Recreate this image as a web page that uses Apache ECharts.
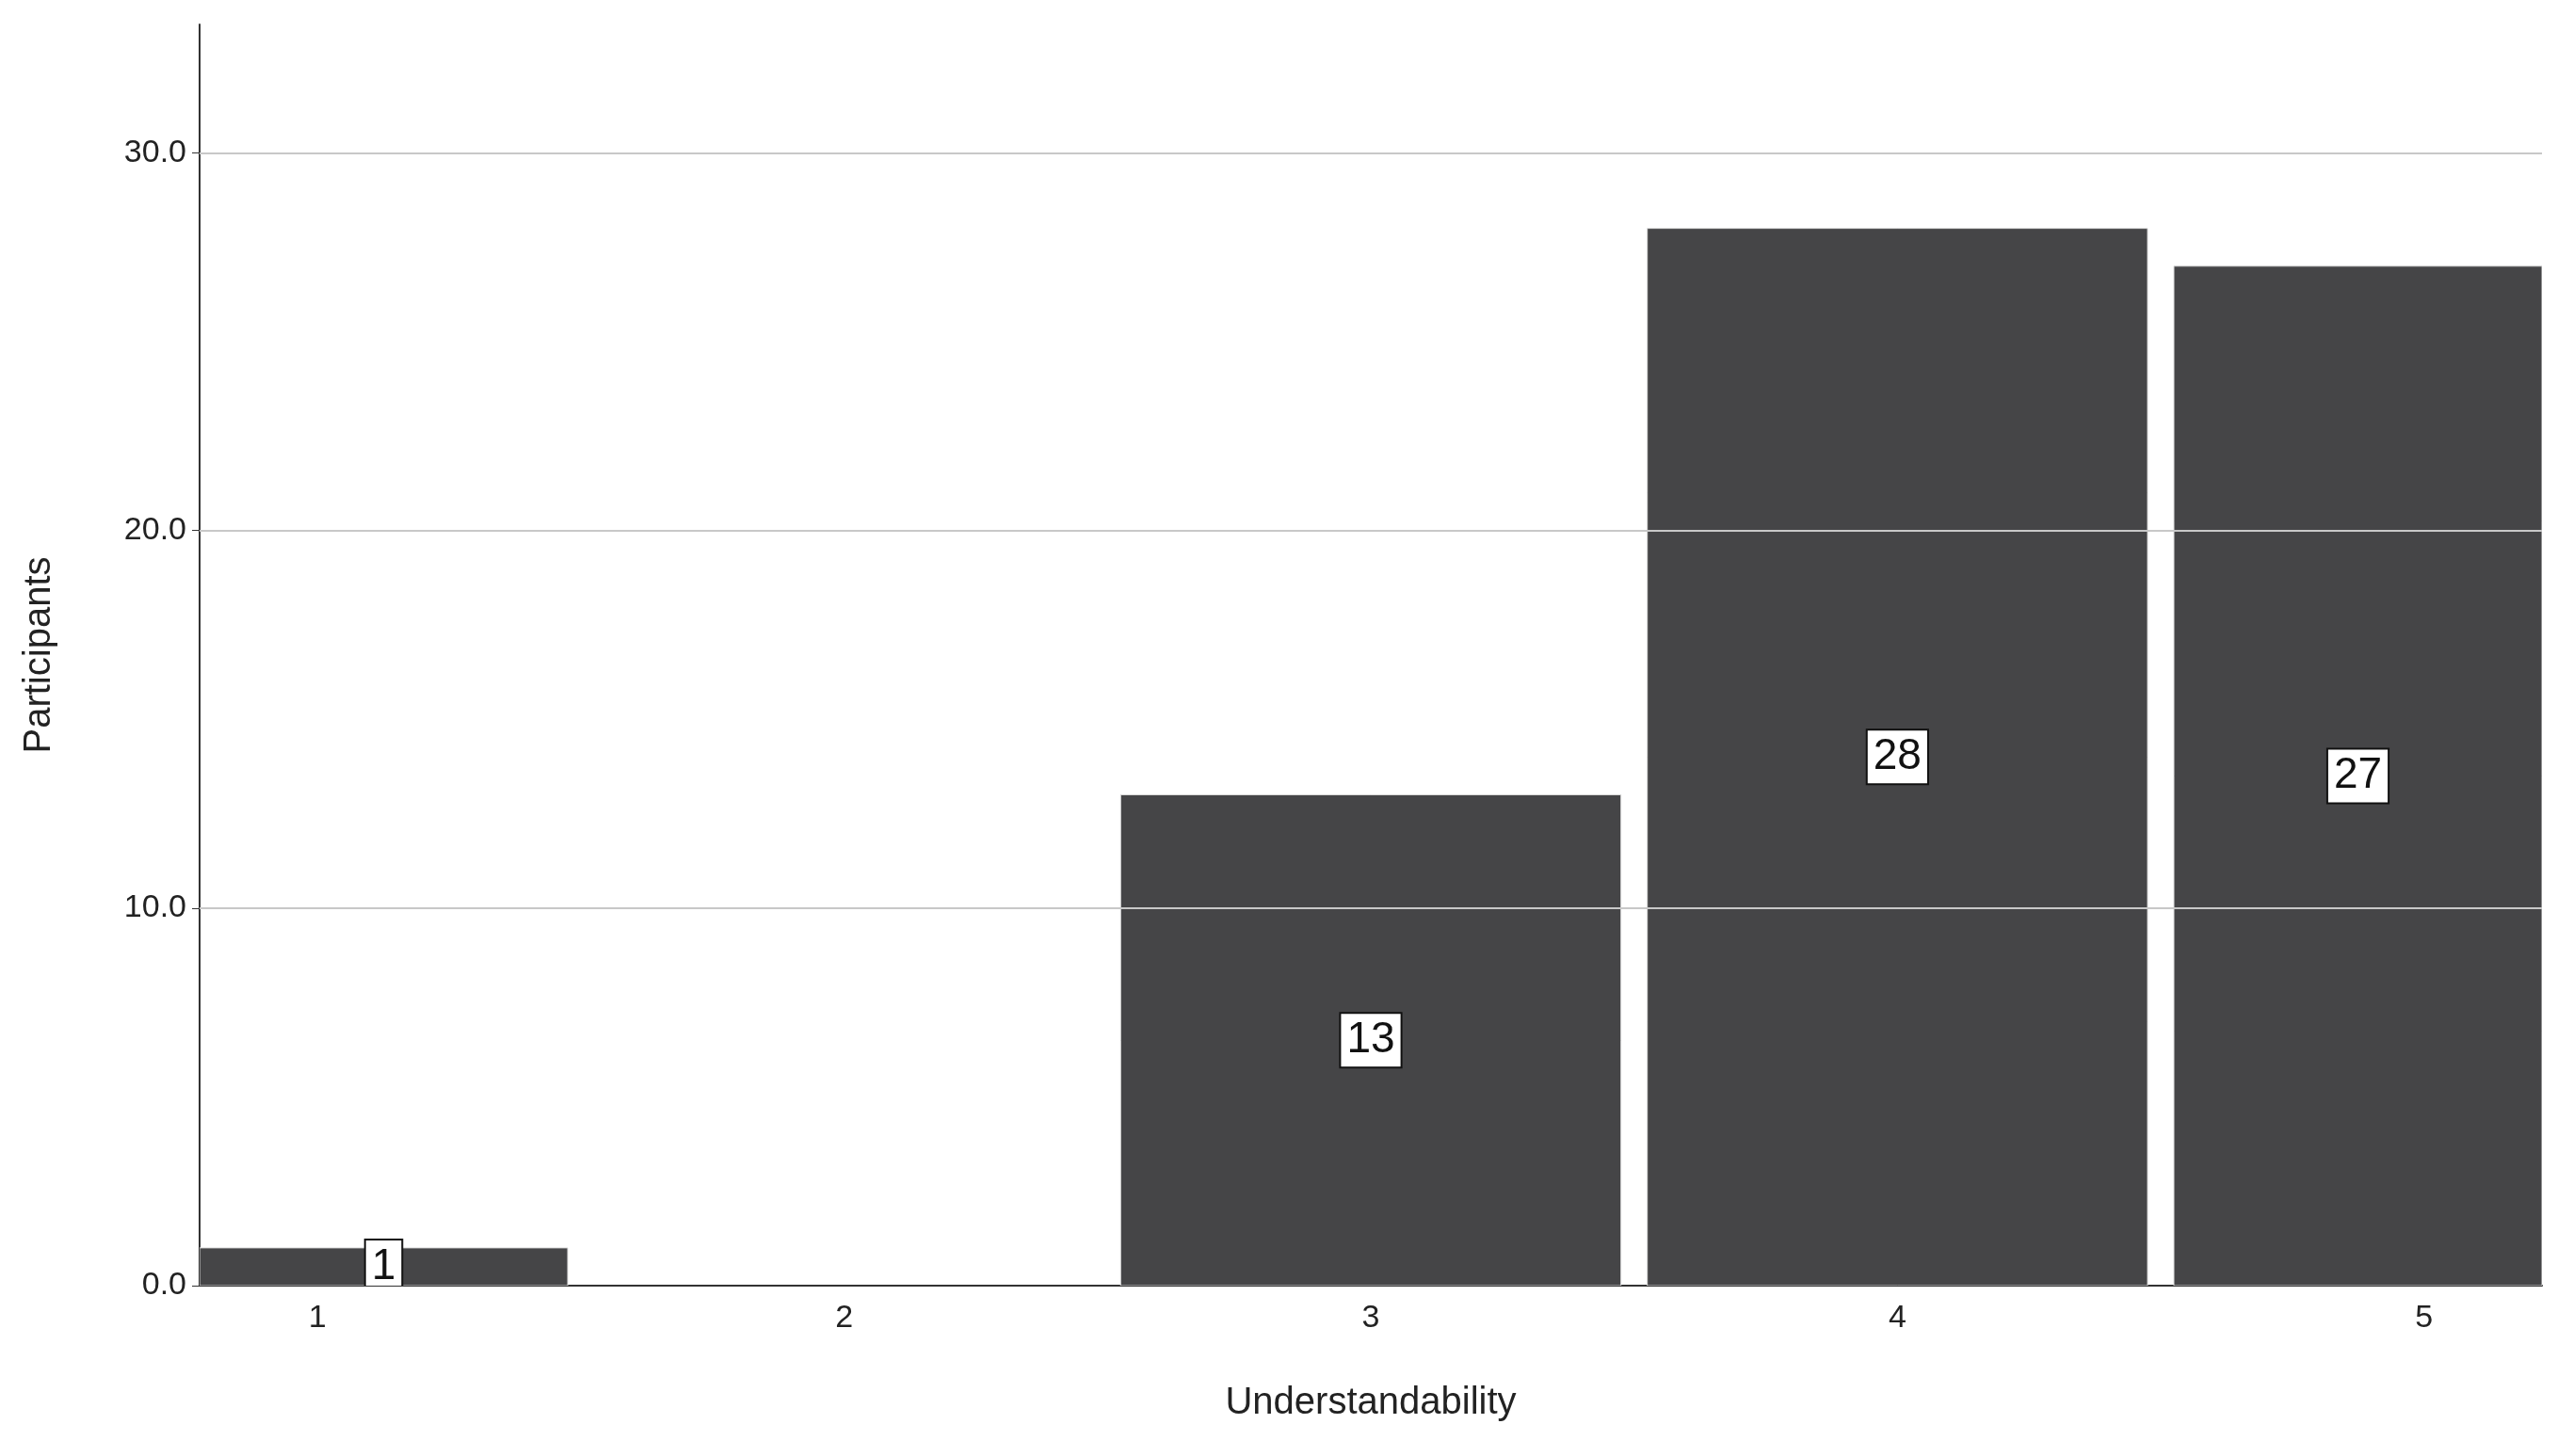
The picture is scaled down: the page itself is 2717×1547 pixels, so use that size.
<!DOCTYPE html>
<html><head><meta charset="utf-8">
<script src="https://cdn.jsdelivr.net/npm/echarts@6/dist/echarts.min.js"></script>
<style>html,body{margin:0;background:#fff}#c{width:2717px;height:1547px}</style>
</head><body><div id="c"></div>
<script>
const categories = [1, 2, 3, 4, 5];
const values = [1, 0, 13, 28, 27];
const yTicks = [0, 10, 20, 30];
const xMin = 0.776, xMax = 5.224, barHalf = 0.475;
const chart = echarts.init(document.getElementById('c'));
const barData = categories.map((c, i) => [c, values[i]]);
const font = 'Arial, "Liberation Sans", sans-serif';
function renderBar(params, api) {
  const c = api.value(0), v = api.value(1);
  if (!v) return null;
  const p0 = api.coord([c - barHalf, v]), p1 = api.coord([c + barHalf, 0]);
  const cs = params.coordSys;
  const rect = echarts.graphic.clipRectByRect(
    {x: p0[0], y: p0[1], width: p1[0] - p0[0], height: p1[1] - p0[1]},
    {x: cs.x, y: cs.y, width: cs.width, height: cs.height});
  if (!rect) return null;
  return {type: 'group', children: [
    {type: 'rect', shape: rect, style: {fill: '#454547', stroke: '#dddddd', lineWidth: 1}},
    {type: 'text', z2: 10, style: {text: String(v), x: rect.x + rect.width / 2,
      y: rect.y + rect.height / 2, align: 'center', verticalAlign: 'middle',
      fill: '#111', fontSize: 46, fontFamily: font, backgroundColor: '#fff',
      borderColor: '#111', borderWidth: 2, padding: [6, 6, 4, 6]}}
  ]};
}
chart.setOption({
  animation: false,
  grid: {left: 212, right: 17, top: 26, bottom: 181},
  xAxis: {type: 'value', min: xMin, max: xMax,
    name: 'Understandability', nameLocation: 'middle', nameGap: 105,
    nameTextStyle: {fontSize: 40, color: '#222', fontFamily: font},
    axisLine: {show: true, lineStyle: {color: '#333', width: 2}},
    axisTick: {show: false}, splitLine: {show: false},
    axisLabel: {customValues: categories, fontSize: 34, color: '#222', margin: 18, fontFamily: font}},
  yAxis: {type: 'value', min: 0, max: 33.4,
    name: 'Participants', nameLocation: 'middle', nameGap: 150, nameRotate: 90,
    nameTextStyle: {fontSize: 40, color: '#222', fontFamily: font},
    axisLine: {show: true, lineStyle: {color: '#333', width: 2}},
    axisTick: {show: true, customValues: yTicks, length: 8, lineStyle: {color: '#333'}},
    splitLine: {show: false},
    axisLabel: {customValues: yTicks, formatter: v => v.toFixed(1), fontSize: 34, color: '#222', margin: 14, fontFamily: font}},
  series: [
    {type: 'line', data: [], z: 1,
     markLine: {silent: true, symbol: 'none', label: {show: false},
       lineStyle: {color: '#c8c8c8', type: 'solid', width: 2},
       data: yTicks.filter(v => v > 0).map(v => ({yAxis: v}))}},
    {type: 'custom', data: barData, renderItem: renderBar, z: 3, clip: true,
     encode: {x: 0, y: 1}}
  ]
});
</script></body></html>
